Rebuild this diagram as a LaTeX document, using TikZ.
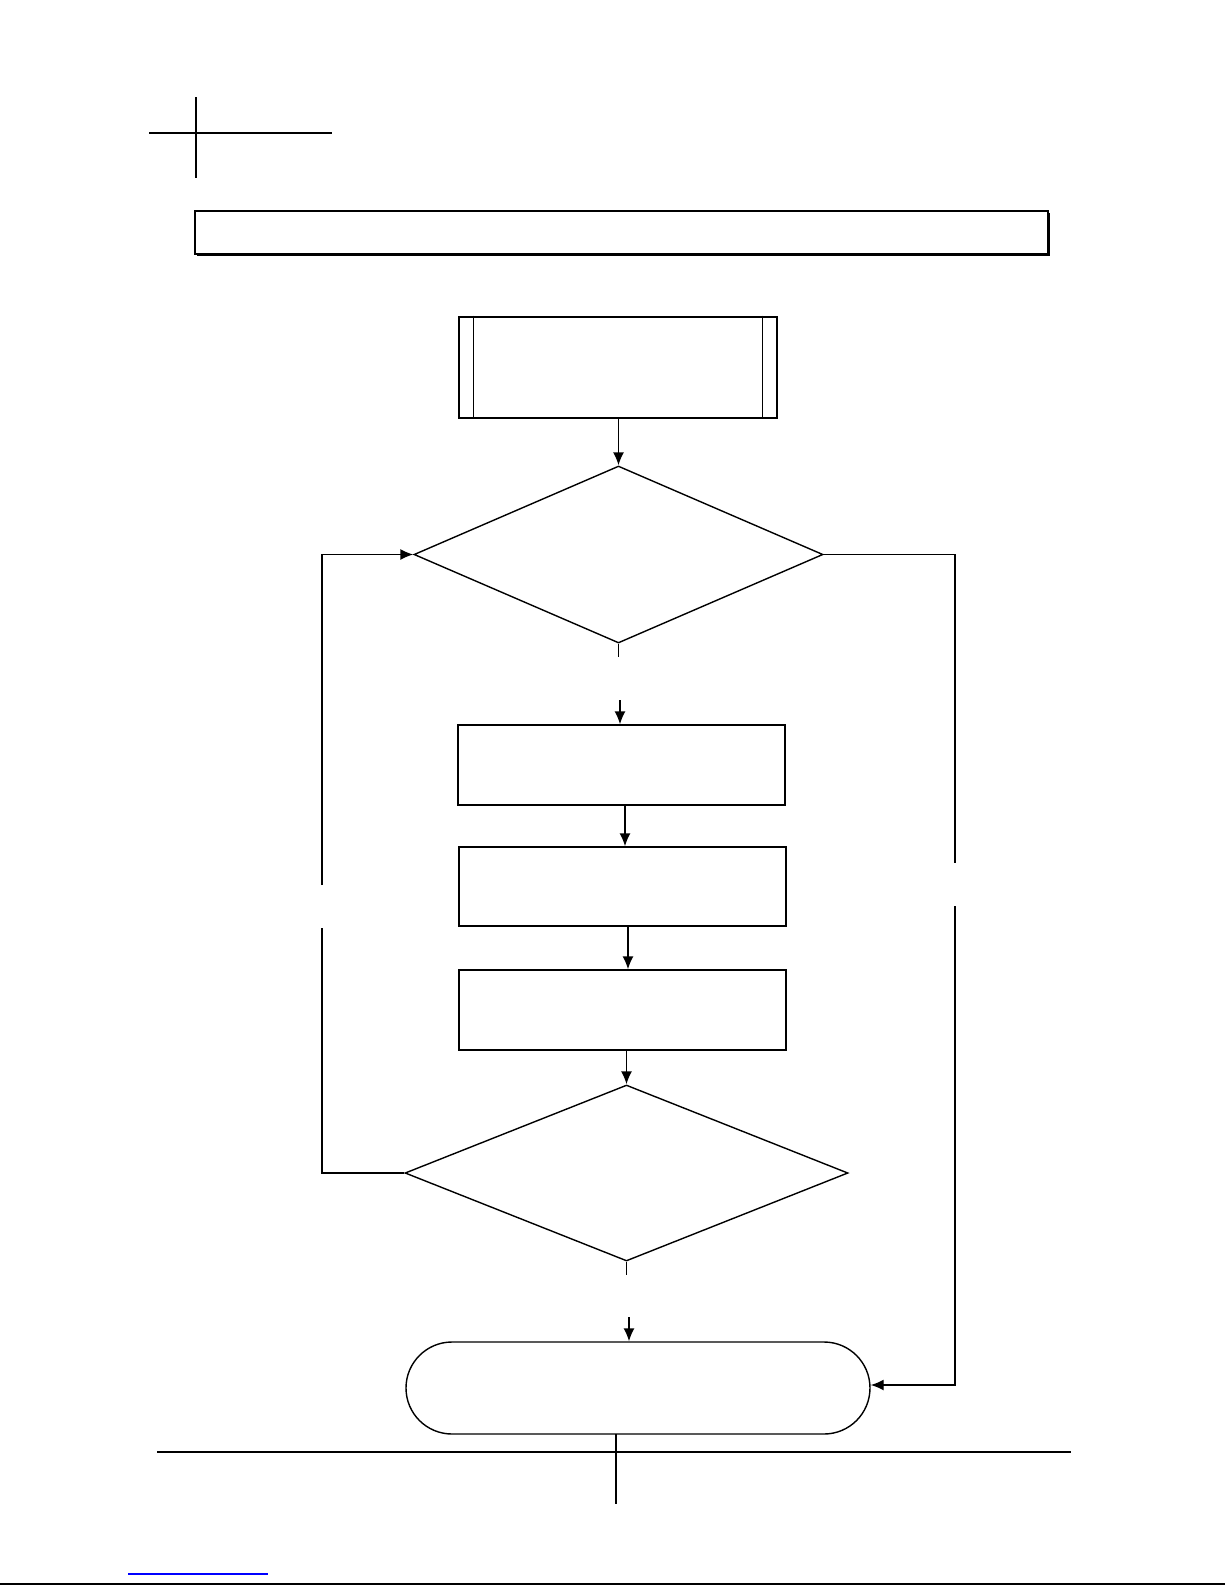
\documentclass[tikz,border=0pt]{standalone}
\usetikzlibrary{shapes.geometric,arrows.meta,shadows,calc}
\begin{document}
\begin{tikzpicture}[x=0.5pt,y=-0.5pt,
  ln/.style={line width=0.7pt,black},
  arr/.style={ln,-{Latex[length=6.5pt,width=5.5pt]}},
  boxn/.style={draw,ln,rectangle,inner sep=0pt},
  dia/.style={draw,ln,diamond,inner sep=0pt},
]
\useasboundingbox (0,0) rectangle (1225,1585);
% page marks
\draw[line width=0.65pt] (196,97) -- (196,178);
\draw[line width=1.1pt] (149,133) -- (332,133);
\draw[line width=1.1pt] (157,1452) -- (1071,1452);
\draw[line width=0.65pt] (616,1434) -- (616,1504);
\draw[line width=0.6pt,color={rgb,255:red,0;green,0;blue,255}] (128,1574) -- (268,1574);
\draw[line width=0.6pt] (0,1584) -- (1225,1584);
% title box
\node[boxn,minimum width=426.5pt,minimum height=21.5pt,fill=white,
  drop shadow={shadow xshift=1pt,shadow yshift=-1pt,fill=black,opacity=1}] (title) at (621.5,232.5) {};
% predefined process
\node[draw,line width=1.4pt,rectangle,inner sep=0pt,minimum width=159pt,minimum height=50.5pt] (pp) at (618,367.5) {};
\draw[ln] ([xshift=8pt]pp.north west) -- ([xshift=8pt]pp.south west);
\draw[ln] ([xshift=-8pt]pp.north east) -- ([xshift=-8pt]pp.south east);
% decision 1
\node[dia,minimum width=204.5pt,minimum height=88.5pt] (d1) at (618.5,554.5) {};
% process boxes
\node[boxn,minimum width=163.5pt,minimum height=40pt] (b1) at (621.5,765) {};
\node[boxn,minimum width=163.5pt,minimum height=39.5pt] (b2) at (622.5,886.5) {};
\node[boxn,minimum width=163.5pt,minimum height=40pt] (b3) at (622.5,1010) {};
% decision 2
\node[dia,minimum width=221.5pt,minimum height=88pt] (d2) at (626.5,1173) {};
% terminal
\node[draw,ln,rectangle,rounded corners=23pt,inner sep=0pt,minimum width=232pt,minimum height=46pt] (t) at (638,1388) {};
% connectors
\draw[arr] (pp.south -| d1.north) -- (d1.north);
\draw[ln] (d1.south) -- ++(0,13);
\coordinate (y1) at (620,700);
\draw[arr] (y1) -- (y1 |- b1.north);
\draw[arr] ([xshift=1.75pt]b1.south) -- ([xshift=1.75pt]b1.south |- b2.north);
\draw[arr] ([xshift=2.75pt]b2.south) -- ([xshift=2.75pt]b2.south |- b3.north);
\draw[arr] (d2.north |- b3.south) -- (d2.north);
\draw[ln] (d2.south) -- ++(0,13);
\coordinate (y2) at (629,1317);
\draw[arr] (y2) -- (y2 |- t.north);
% left loop
\coordinate (lg1) at (322,885);
\coordinate (lg2) at (322,928);
\draw[ln] (d2.west) -- (d2.west -| lg2) -- (lg2);
\draw[arr] (lg1) -- (lg1 |- d1.west) -- (d1.west);
% right bypass
\coordinate (rg1) at (955,863);
\coordinate (rg2) at (955,906);
\draw[ln] (d1.east) -- (d1.east -| rg1) -- (rg1);
\draw[arr] (rg2) -- ([yshift=1.5pt]rg2 |- t.east) -- ([yshift=1.5pt]t.east);
\end{tikzpicture}
\end{document}
